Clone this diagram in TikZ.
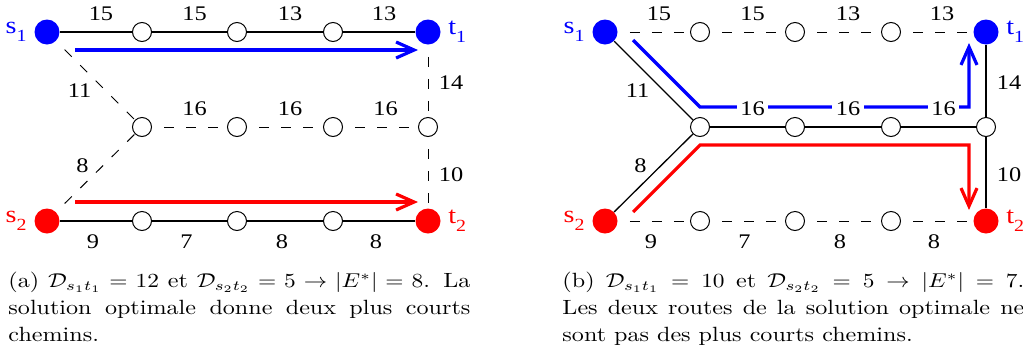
\documentclass[tikz,border=0pt]{standalone}
\usepackage{fontspec}
\newfontfamily\timesfont{Liberation Serif}
\usetikzlibrary{arrows.meta,calc}

\newcommand\idx[1]{\raisebox{-4pt}{\fontsize{8.5}{9}\selectfont #1}}

\begin{document}
\begin{tikzpicture}[x=0.5pt,y=-0.5pt,
  term/.style={circle,inner sep=0pt,minimum size=12.5pt},
  relay/.style={circle,draw,fill=white,line width=0.5pt,inner sep=0pt,minimum size=9.5pt},
  tlab/.style={font=\fontsize{12}{14}\selectfont\timesfont,xscale=1.17,inner sep=3pt},
  wt/.style={font=\fontsize{10.4}{12}\selectfont\timesfont,inner sep=1.5pt,fill=white,xscale=1.17},
  used/.style={line width=0.65pt},
  unused/.style={line width=0.5pt,dash pattern=on 5pt off 6pt,dash phase=5pt},
  route/.style={line width=1.6pt,-{Straight Barb[length=9pt,width=8pt]}},
  caption/.style={anchor=north west,inner sep=0pt,text width=197.4pt,align=justify,
    xscale=1.17,font=\fontsize{10.3}{13.4}\selectfont}]
  \useasboundingbox (0,0) rectangle (1023,360);

  % nodes of both panels
  \foreach \p/\dx in {L/0,R/558} {
    \node[term,fill=blue,label={[tlab,blue]left:s\idx{1}}] (\p s1) at (\dx+47,32) {};
    \node[term,fill=blue,label={[tlab,blue]right:t\idx{1}}] (\p t1) at (\dx+428,32) {};
    \node[term,fill=red,label={[tlab,red]left:s\idx{2}}] (\p s2) at (\dx+47,221) {};
    \node[term,fill=red,label={[tlab,red]right:t\idx{2}}] (\p t2) at (\dx+428,221) {};
    \foreach \i/\x in {1/142,2/237,3/333} {
      \node[relay] (\p a\i) at (\dx+\x,32) {};
      \node[relay] (\p m\i) at (\dx+\x,127) {};
      \node[relay] (\p b\i) at (\dx+\x,221) {};
    }
    \node[relay] (\p m4) at (\dx+428,127) {};
  }

  % routes
  \draw[route,blue] ($(Ls1)+(28,18)$) -- ($(Lt1)+(-10,18)$);
  \draw[route,red] ($(Ls2)+(28,-19)$) -- ($(Lt2)+(-10,-19)$);
  \draw[route,blue] ($(Rs1)+(28,8)$) -- ($(Rm1)+(0,-20)$) -- ($(Rm4)+(-17,-20)$) -- ($(Rt1)+(-17,11)$);
  \draw[route,red] ($(Rs2)+(28,-9)$) -- ($(Rm1)+(0,18)$) -- ($(Rm4)+(-17,18)$) -- ($(Rt2)+(-17,-11)$);

  % edges
  \foreach \p/\rowst/\hubst in {L/used/unused,R/unused/used} {
    \draw[\rowst] (\p s1) -- node[shift={(5,-18)},wt]{15} (\p a1)
      -- node[shift={(5,-18)},wt]{15} (\p a2)
      -- node[shift={(5,-18)},wt]{13} (\p a3)
      -- node[shift={(5,-18)},wt]{13} (\p t1);
    \draw[\rowst] (\p s2) -- node[shift={(-3,21)},wt]{9} (\p b1)
      -- node[shift={(-3,21)},wt]{7} (\p b2)
      -- node[shift={(-3,21)},wt]{8} (\p b3)
      -- node[shift={(-3,21)},wt]{8} (\p t2);
    \draw[\hubst] (\p m1) -- node[shift={(5,-18)},wt]{16} (\p m2)
      -- node[shift={(5,-18)},wt]{16} (\p m3)
      -- node[shift={(5,-18)},wt]{16} (\p m4);
    \draw[\hubst] (\p s1) -- node[shift={(-16,10)},wt]{11} (\p m1);
    \draw[\hubst] (\p s2) -- node[shift={(-13,-7)},wt]{8} (\p m1);
    \draw[\hubst] (\p t1) -- node[shift={(23,2)},wt]{14} (\p m4);
    \draw[\hubst] (\p m4) -- node[shift={(23,2)},wt]{10} (\p t2);
  }

  % captions
  \node[caption] (capa) at (8,272) {(a) $\mathcal{D}_{s_1t_1}=12$ et $\mathcal{D}_{s_2t_2}=5\rightarrow|E^*|=8$. La\linebreak
    solution optimale donne deux plus courts\linebreak chemins.};
  \node[caption] (capb) at (562,272) {(b) $\mathcal{D}_{s_1t_1}=10$ et $\mathcal{D}_{s_2t_2}=5\rightarrow|E^*|=7$.\linebreak
    Les deux routes de la solution optimale ne\linebreak sont pas des plus courts chemins.};
\end{tikzpicture}
\end{document}
